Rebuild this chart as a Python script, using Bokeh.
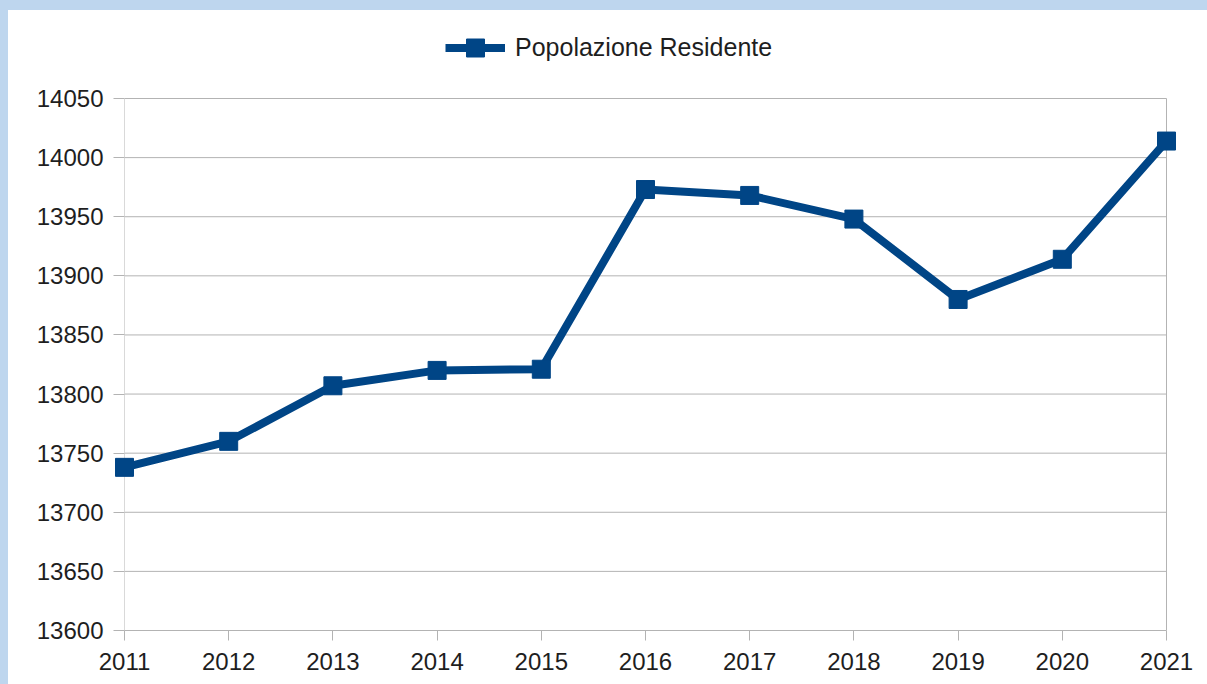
from bokeh.plotting import figure
from bokeh.layouts import row, column
from bokeh.models import (Range1d, FixedTicker, Legend, LegendItem, ColumnDataSource, Spacer)
from bokeh.embed import file_html
from bokeh.resources import INLINE

years = [2011, 2012, 2013, 2014, 2015, 2016, 2017, 2018, 2019, 2020, 2021]
popolazione = [13738, 13760, 13807, 13820, 13821, 13973, 13968, 13948, 13880, 13914, 14014]
y_ticks = [13600, 13650, 13700, 13750, 13800, 13850, 13900, 13950, 14000, 14050]
series_name = "Popolazione Residente"

FONT = "Liberation Sans"
BLUE = "#004586"
GRID = "#b3b3b3"
TEXT = "#1e1e1e"
PAGE_BG = "#bed6ee"

# pixel geometry of the plotting box (data box 1042 x 532 px)
BOX_W, BOX_H = 1042, 532
PAD_L, PAD_R, PAD_T = 11, 14, 83
x_per_px = (years[-1] - years[0]) / BOX_W
y_per_px = (y_ticks[-1] - y_ticks[0]) / BOX_H

src = ColumnDataSource(dict(x=years, y=popolazione))

fig = figure(frame_width=BOX_W + PAD_L + PAD_R, frame_height=BOX_H + PAD_T,
             output_backend="svg", toolbar_location=None,
             x_range=Range1d(years[0] - PAD_L * x_per_px, years[-1] + PAD_R * x_per_px),
             y_range=Range1d(y_ticks[0], y_ticks[-1] + PAD_T * y_per_px),
             min_border_left=105, min_border_right=27, min_border_top=5, min_border_bottom=54)
fig.background_fill_color = "white"
fig.border_fill_color = "white"
fig.outline_line_color = None
fig.xgrid.grid_line_color = None
fig.ygrid.grid_line_color = None

# horizontal grid lines spanning the data box
hgrid = ColumnDataSource(dict(x0=[years[0]] * (len(y_ticks) - 1),
                              x1=[years[-1]] * (len(y_ticks) - 1),
                              y=y_ticks[1:]))
fig.segment(x0="x0", y0="y", x1="x1", y1="y", source=hgrid, line_color=GRID, line_width=1)
# vertical box edges
fig.segment(x0=[years[0]], y0=[y_ticks[0]], x1=[years[0]], y1=[y_ticks[-1]],
            line_color="#d9d9d9", line_width=1)
fig.segment(x0=[years[-1]], y0=[y_ticks[0]], x1=[years[-1]], y1=[y_ticks[-1]],
            line_color=GRID, line_width=1)

line_r = fig.line("x", "y", source=src, line_color=BLUE, line_width=8)
mark_r = fig.scatter("x", "y", source=src, marker="square", size=18,
                     fill_color=BLUE, line_color=BLUE)

# axes
fig.xaxis.ticker = FixedTicker(ticks=years)
fig.yaxis.ticker = FixedTicker(ticks=y_ticks)
for ax in (fig.xaxis[0], fig.yaxis[0]):
    ax.major_label_text_font = FONT
    ax.major_label_text_font_size = "24px"
    ax.major_label_text_color = TEXT
    ax.minor_tick_line_color = None
    ax.major_tick_line_color = GRID
fig.xaxis.bounds = (years[0], years[-1])
fig.xaxis.major_tick_in = 0
fig.xaxis.major_tick_out = 10
fig.xaxis.major_label_standoff = 12
fig.xaxis.axis_line_color = GRID
fig.yaxis.bounds = (y_ticks[0], y_ticks[-1])
fig.yaxis.major_tick_out = 0
fig.yaxis.major_tick_in = PAD_L
fig.yaxis.major_label_standoff = 10
fig.yaxis.axis_line_color = None

legend = Legend(items=[LegendItem(label=series_name, renderers=[line_r, mark_r])],
                orientation="horizontal", location=(332, 560),
                label_text_font=FONT, label_text_font_size="25px", label_text_color=TEXT,
                glyph_width=60, glyph_height=45, label_standoff=10,
                padding=0, margin=0, border_line_color=None,
                background_fill_alpha=0)
fig.add_layout(legend, "center")

left_strip = Spacer(width=8, height=684, styles={"background-color": PAGE_BG})
top_strip = Spacer(width=1199, height=10, styles={"background-color": PAGE_BG})
p = row(left_strip, column(top_strip, fig, spacing=0), spacing=0)

open("out.html", "w").write(file_html(p, INLINE))
